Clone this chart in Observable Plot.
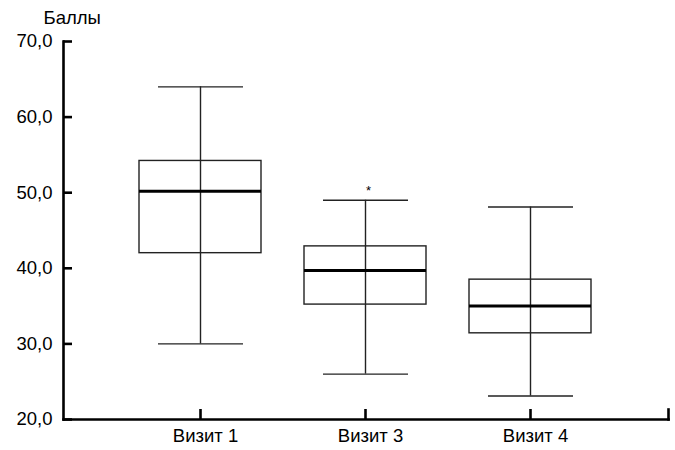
<!DOCTYPE html>
<html>
<head>
<meta charset="utf-8">
<script src="https://cdn.jsdelivr.net/npm/d3@7"></script>
<script src="https://cdn.jsdelivr.net/npm/@observablehq/plot@0.6"></script>
<style>
  html, body { margin: 0; padding: 0; background: #fff; }
  #chart svg { display: block; }
</style>
</head>
<body>
<div id="chart"></div>
<script>
// ---- data ----
const visits = ["Визит 1", "Визит 3", "Визит 4"];
const whiskerMin = [30.0, 26.0, 23.1];
const q1 = [42.0, 35.2, 31.4];
const median = [50.2, 39.7, 35.0];
const q3 = [54.2, 42.9, 38.5];
const whiskerMax = [64.0, 49.0, 48.1];
const outlierVisit = ["Визит 3"];
const outlierValue = [50.6];
const yTicks = [20, 30, 40, 50, 60, 70];
const yTitle = "Баллы";

// ---- layout ----
const W = 675, H = 450;
const mL = 63, mR = 7, mT = 41, mB = 31;
const frameW = W - mL - mR, frameH = H - mT - mB;
const font = "'Liberation Sans', Arial, sans-serif";

const boxes = visits.map((v, i) => ({
  visit: v, lo: whiskerMin[i], q1: q1[i], med: median[i], q3: q3[i], hi: whiskerMax[i]
}));
const outliers = outlierVisit.map((v, i) => ({visit: v, value: outlierValue[i]}));
const fmt = d => d.toFixed(1).replace(".", ",");

const plot = Plot.plot({
  width: W, height: H,
  marginLeft: mL, marginRight: mR, marginTop: mT, marginBottom: mB,
  style: {fontFamily: font, fontSize: "18.5px", color: "#000", background: "#fff"},
  x: {type: "band", domain: visits, range: [95, 636], padding: 0.26},
  y: {domain: [20, 70]},
  marks: [
    // boxes
    Plot.barY(boxes, {x: "visit", y1: "q1", y2: "q3", fill: "#fff", stroke: "#222", strokeWidth: 1.4}),
    // whisker line through the box
    Plot.ruleX(boxes, {x: "visit", y1: "lo", y2: "hi", stroke: "#222", strokeWidth: 1.4}),
    // whisker caps
    Plot.tickY(boxes, {x: "visit", y: "lo", stroke: "#222", strokeWidth: 1.4, insetLeft: 19, insetRight: 18}),
    Plot.tickY(boxes, {x: "visit", y: "hi", stroke: "#222", strokeWidth: 1.4, insetLeft: 19, insetRight: 18}),
    // median
    Plot.tickY(boxes, {x: "visit", y: "med", stroke: "#000", strokeWidth: 3}),
    // outlier marker
    Plot.text(outliers, {x: "visit", y: "value", text: () => "*", fontSize: 13, dx: 3, dy: 3, fill: "#000"}),
    // axes lines
    Plot.frame({anchor: "left", stroke: "#000", strokeWidth: 2.6}),
    Plot.frame({anchor: "bottom", stroke: "#000", strokeWidth: 2.6}),
    Plot.frame({anchor: "right", stroke: "#000", strokeWidth: 2.6, insetTop: frameH - 10}),
    // inward ticks
    Plot.ruleY(yTicks, {y: d => d, stroke: "#000", strokeWidth: 2.6, insetRight: frameW - 9}),
    Plot.ruleX(visits, {x: d => d, stroke: "#000", strokeWidth: 2.6, insetTop: frameH - 10}),
    // axis labels
    Plot.axisY(yTicks, {tickSize: 0, tickPadding: 11, tickFormat: fmt, fontSize: 18.5, label: null}),
    Plot.axisX({tickSize: 0, tickPadding: 9, fontSize: 18.5, label: null, dx: 5}),
    // y title
    Plot.text([yTitle], {frameAnchor: "top-left", textAnchor: "start", lineAnchor: "top", dx: -20, dy: -31, fontSize: 18.5, fill: "#000"})
  ]
});
document.getElementById("chart").appendChild(plot);
</script>
</body>
</html>
